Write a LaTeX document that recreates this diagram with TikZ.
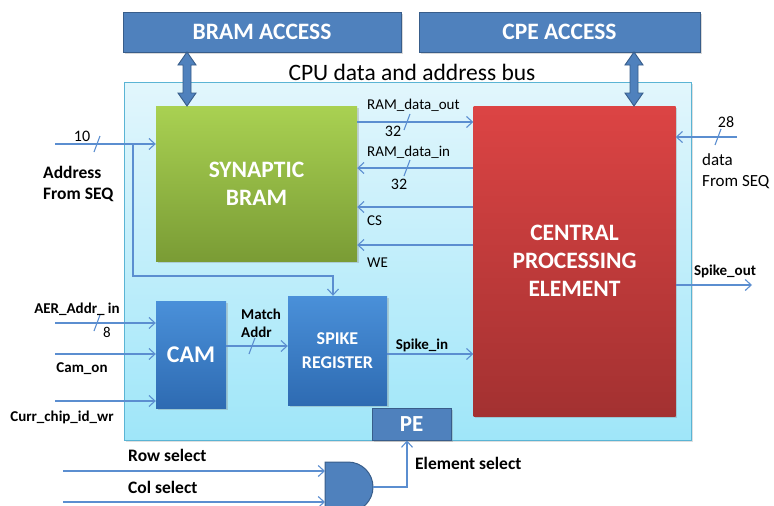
\documentclass[tikz,border=0pt]{standalone}
\usepackage{fontspec}
\setmainfont{Carlito}
\usetikzlibrary{arrows.meta,shadows}

\definecolor{wirec}{HTML}{5B8ED0}
\definecolor{accfill}{HTML}{4F81BD}
\definecolor{accdraw}{HTML}{385D8A}
\definecolor{paneltop}{HTML}{E2F6FC}
\definecolor{panelbot}{HTML}{9FE6F9}
\definecolor{paneldraw}{HTML}{5AB4D4}
\definecolor{greentop}{HTML}{A9D152}
\definecolor{greenbot}{HTML}{7A9C35}
\definecolor{redtop}{HTML}{DC4444}
\definecolor{redbot}{HTML}{A33131}
\definecolor{bluetop}{HTML}{4A90D9}
\definecolor{bluebot}{HTML}{2E6BB2}

\tikzset{
  wire/.style={draw=wirec, line width=1.1pt},
  sig/.style={wire, -{Straight Barb[length=6pt,width=11pt]}},
  blk/.style={rectangle, inner sep=0pt, text=white, align=center,
    font=\bfseries\fontsize{23.5}{28}\selectfont,
    drop shadow={shadow xshift=1.5pt, shadow yshift=-1.5pt, opacity=0.3}},
  accbox/.style={blk, fill=accfill, draw=accdraw, line width=1pt},
  lbl/.style={inner sep=0pt, font=\fontsize{15}{18}\selectfont},
  blbl/.style={inner sep=0pt, font=\bfseries\fontsize{15}{18}\selectfont},
  bigblbl/.style={inner sep=0pt, font=\bfseries\fontsize{17.5}{21}\selectfont, align=left},
  busarrow/.style={fill=accfill, draw=accdraw, line width=0.9pt, line join=miter},
  gatestyle/.style={fill=accfill, draw=accdraw, line width=1pt},
}

% vertical double-headed bus arrow: x, top y, bottom y
\newcommand\busarrowat[3]{%
  \draw[busarrow] (#1-4,#2+13) -- (#1-9,#2+13) -- (#1,#2) -- (#1+9,#2+13)
    -- (#1+4,#2+13) -- (#1+4,#3-13) -- (#1+9,#3-13) -- (#1,#3)
    -- (#1-9,#3-13) -- (#1-4,#3-13) -- cycle;}
% bus width tick
\newcommand\bustick[2]{\draw[wire] (#1-3,#2+8) -- (#1+3,#2-8);}

\begin{document}
\begin{tikzpicture}[x=1pt,y=-1pt]
\useasboundingbox (0,0) rectangle (774,506);
\clip (0,0) rectangle (774,506);

% top access blocks
\node[accbox, minimum width=278pt, minimum height=40pt] (bacc) at (262,32) {BRAM ACCESS};
\node[accbox, minimum width=281pt, minimum height=40pt] (cacc) at (559.5,32) {CPE ACCESS};
\node[inner sep=0pt, font=\fontsize{23.5}{28}\selectfont] (bus) at (412,72) {CPU data and address bus};

% processing element panel
\node[rectangle, inner sep=0pt, minimum width=567pt, minimum height=358pt,
  top color=paneltop, bottom color=panelbot, draw=paneldraw, line width=1pt,
  drop shadow={shadow xshift=1.5pt, shadow yshift=-1.5pt, opacity=0.25}] (panel) at (407.5,261) {};

% main blocks
\node[blk, minimum width=201pt, minimum height=155pt, top color=greentop, bottom color=greenbot] (bram) at (256.5,183.5) {SYNAPTIC\\BRAM};
\node[blk, minimum width=202pt, minimum height=310pt, top color=redtop, bottom color=redbot] (cpe) at (574.5,261) {CENTRAL\\PROCESSING\\ELEMENT};
\node[blk, minimum width=70pt, minimum height=107pt, top color=bluetop, bottom color=bluebot, font=\bfseries\fontsize{24}{28}\selectfont] (cam) at (191,354.5) {CAM};
\node[blk, minimum width=99pt, minimum height=109pt, top color=bluetop, bottom color=bluebot, font=\bfseries\fontsize{18}{24}\selectfont] (spk) at (337.5,350.5) {SPIKE\\REGISTER};
\node[accbox, minimum width=79pt, minimum height=32pt, font=\bfseries\fontsize{23}{27}\selectfont] (pe) at (411.5,424) {PE};

% bus arrows to the access blocks
\busarrowat{187}{52}{106}
\busarrowat{634}{52}{106}

% address from sequencer
\coordinate (addrin) at (55,144);
\coordinate (addrbr) at (133,144);
\draw[sig] (addrin) -- (bram.west |- addrin);
\draw[sig] (addrbr) -- (133,276) -- (333,276) -- (spk.north -| 333,0);
\bustick{97}{144}
\node[lbl, font=\fontsize{16}{19}\selectfont] (n10) at (82,136) {10};
\node[bigblbl, anchor=west] (addrlbl) at (43,183.5) {Address\\From SEQ};

% BRAM <-> CPE signals
\draw[sig] (bram.east |- 0,122) -- (cpe.west |- 0,122);
\bustick{407}{122}
\node[lbl, anchor=west] (rdo) at (367,105) {RAM\_data\_out};
\node[lbl, font=\fontsize{16}{19}\selectfont] (rdow) at (393,131) {32};
\draw[sig] (cpe.west |- 0,168) -- (bram.east |- 0,168);
\bustick{407}{168}
\node[lbl, anchor=west] (rdi) at (367,152) {RAM\_data\_in};
\node[lbl, font=\fontsize{16}{19}\selectfont] (rdiw) at (399,184) {32};
\draw[sig] (cpe.west |- 0,207) -- (bram.east |- 0,207);
\node[lbl, anchor=west] (cs) at (367,221) {CS};
\draw[sig] (cpe.west |- 0,245) -- (bram.east |- 0,245);
\node[lbl, anchor=west] (we) at (367,263) {WE};

% data from sequencer and spike output
\coordinate (datain) at (737,137);
\draw[sig] (datain) -- (cpe.east |- datain);
\bustick{718}{137}
\node[lbl, font=\fontsize{16}{19}\selectfont] (n28) at (726,122) {28};
\node[inner sep=0pt, anchor=west, align=left, font=\fontsize{17}{21}\selectfont] (datalbl) at (702,171.5) {data\\From SEQ};
\coordinate (spkout) at (752,285);
\draw[sig] (cpe.east |- spkout) -- (spkout);
\node[blbl] (spkoutlbl) at (725,271) {Spike\_out};

% CAM inputs
\coordinate (aerin) at (55,323);
\draw[sig] (aerin) -- (cam.west |- aerin);
\bustick{97}{323}
\node[blbl] (aerlbl) at (77,309) {AER\_Addr\_ in};
\node[lbl] (n8) at (107,332) {8};
\coordinate (camon) at (55,354);
\draw[sig] (camon) -- (cam.west |- camon);
\node[blbl] (camonlbl) at (82,369) {Cam\_on};
\coordinate (chipid) at (55,401);
\draw[sig] (chipid) -- (cam.west |- chipid);
\node[blbl] (chipidlbl) at (62,417) {Curr\_chip\_id\_wr};

% CAM -> spike register -> CPE
\draw[sig] (cam.east |- 0,346) -- (spk.west |- 0,346);
\bustick{252}{346}
\node[blbl, anchor=west, align=left, font=\bfseries\fontsize{15}{18}\selectfont] (matchlbl) at (241,323) {Match\\Addr};
\draw[sig] (spk.east |- 0,354) -- (cpe.west |- 0,354);
\node[blbl] (spkinlbl) at (422,345) {Spike\_in};

% element select AND gate
\draw[gatestyle] (325,462) -- (348,462) arc[start angle=-90, end angle=90, radius=25] -- (325,512) -- cycle;
\coordinate (rowin) at (63,471);
\coordinate (colin) at (63,502);
\coordinate (gout) at (373,487);
\draw[sig] (rowin) -- (325,471);
\draw[sig] (colin) -- (325,502);
\draw[sig] (gout) -- (407,487) -- (pe.south -| 407,0);
\node[bigblbl, anchor=west] (rowlbl) at (128,455) {Row select};
\node[bigblbl, anchor=west] (collbl) at (128,487) {Col select};
\node[bigblbl, anchor=west] (ellbl) at (415,463) {Element select};
\end{tikzpicture}
\end{document}
